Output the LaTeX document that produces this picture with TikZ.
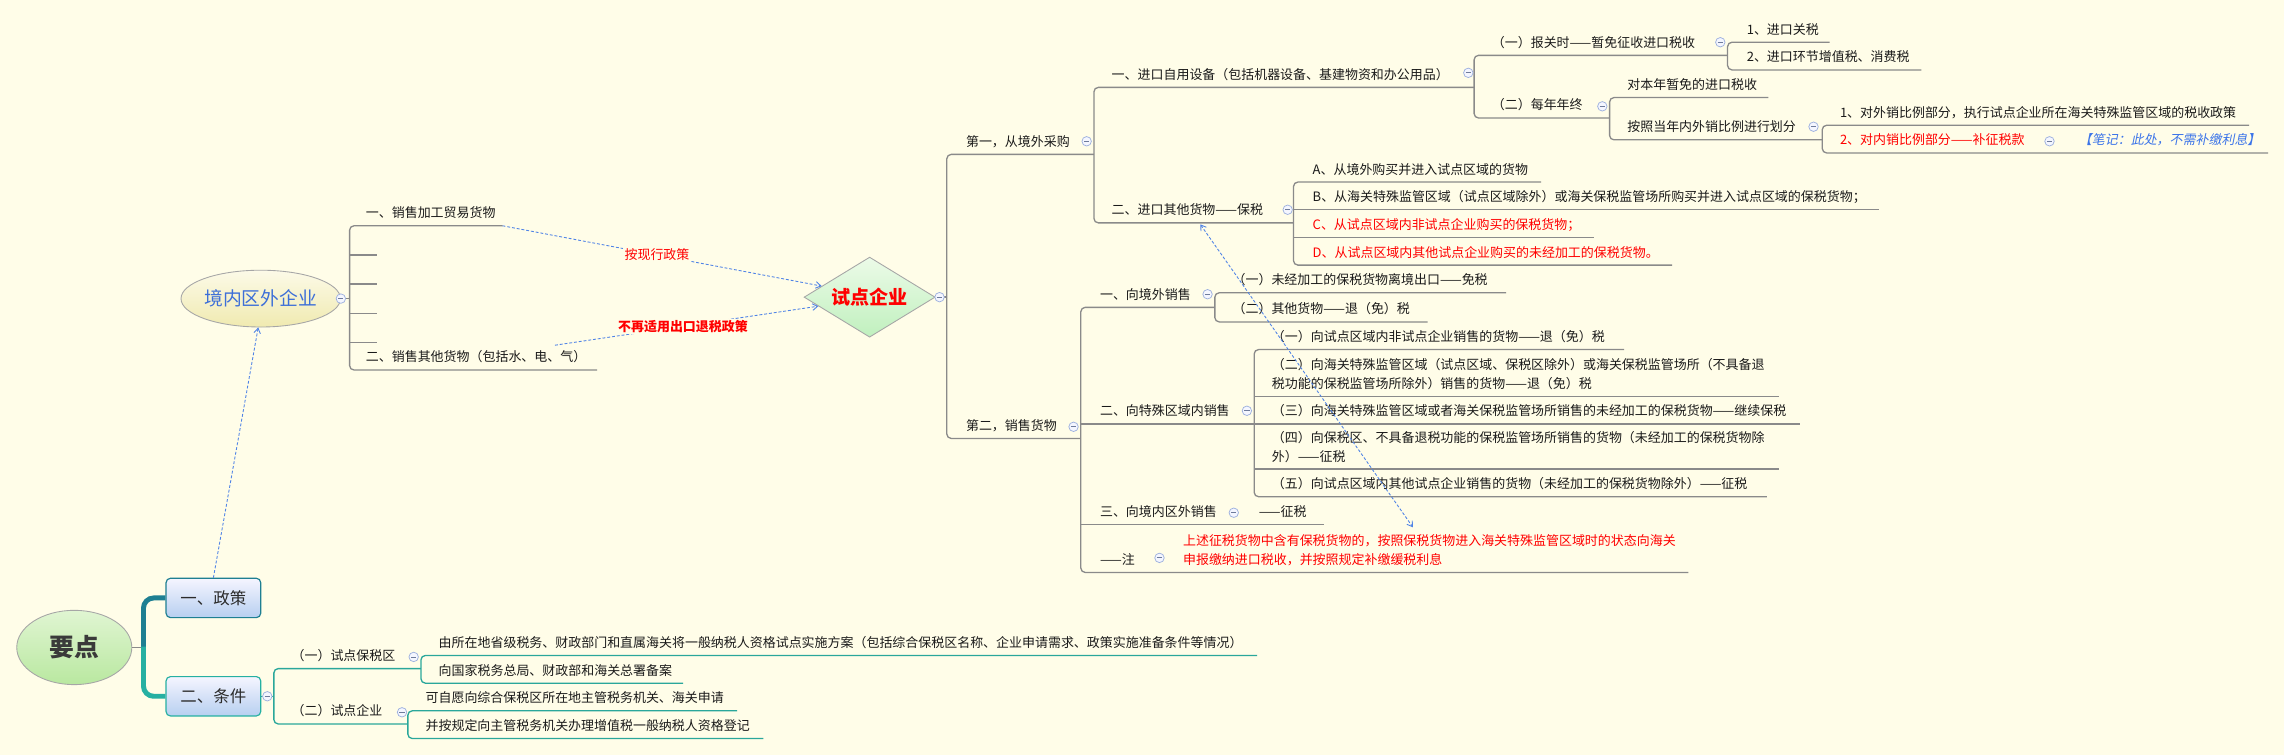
\documentclass[tikz,border=0pt]{standalone}
\usepackage{fontspec}
\setmainfont{Noto Sans CJK SC}
\newfontfamily\cjkslant{Noto Sans CJK SC}[FakeSlant=0.2]
\usetikzlibrary{shapes.geometric,arrows.meta}
\definecolor{bg}{HTML}{FFFDE8}
\definecolor{lg}{HTML}{8A8A8A}
\definecolor{tealA}{HTML}{1E7F92}
\definecolor{tealB}{HTML}{26B0A2}
\definecolor{tealL}{HTML}{2AA79B}
\definecolor{dblue}{HTML}{4F83E6}
\definecolor{cblue}{HTML}{9DB0DE}
\definecolor{colfill}{HTML}{F4F6FF}
\definecolor{txtred}{HTML}{FF0000}
\definecolor{noteblue}{HTML}{3B74E8}
\definecolor{nameblue}{HTML}{3D6FD8}
\definecolor{txtk}{HTML}{1A1A1A}
\newcommand{\fsz}{\fontsize{8.9}{12.7}\selectfont}
\begin{document}
\begin{tikzpicture}[x=1pt,y=-1pt,
  txt/.style={anchor=base west, inner sep=0pt, font=\fsz, text=txtk},
  redtxt/.style={txt, text=txtred},
  ln/.style={draw=lg, line width=0.9pt, rounded corners=3pt},
  tl/.style={draw=tealL, line width=0.9pt, rounded corners=3pt},
  col/.style={circle, draw=cblue, fill=colfill, line width=0.5pt, minimum size=6.5pt, inner sep=0pt,
    path picture={\draw[cblue!70!black, line width=0.6pt] ([xshift=-1.8pt]path picture bounding box.center) -- ([xshift=1.8pt]path picture bounding box.center);}},
  dar/.style={draw=dblue, line width=0.6pt, dash pattern=on 2pt off 1.3pt},
  lbl/.style={inner sep=1pt, fill=bg, font=\fsz, text=txtred},
  topicbox/.style={rectangle, rounded corners=3pt, minimum width=65pt, minimum height=27pt, inner sep=0pt,
    line width=0.8pt, top color=blue!4!white, bottom color={rgb,255:red,183;green,207;blue,240},
    font=\fontsize{11.3}{12}\selectfont, text={rgb,255:red,43;green,43;blue,43}},
]
\useasboundingbox (0,0) rectangle (1568,518);
\fill[bg] (0,0) rectangle (1568,518);

% ---------- main nodes ----------
\node[ellipse, draw=gray!70, line width=0.6pt, top color={rgb,255:red,224;green,245;blue,210}, bottom color={rgb,255:red,185;green,232;blue,160},
  minimum width=79pt, minimum height=51pt, inner sep=0pt, text={rgb,255:red,58;green,58;blue,58},
  font=\fontsize{17}{17}\selectfont\bfseries] (root) at (51,444.5) {要点};
\node[topicbox, draw=tealA] (zc) at (146.5,410.5) {一、政策};
\node[topicbox, draw=tealB] (tj) at (146.5,478) {二、条件};
\node[ellipse, draw=gray!70, line width=0.6pt, top color={rgb,255:red,252;green,250;blue,232}, bottom color={rgb,255:red,240;green,234;blue,176},
  minimum width=104pt, minimum height=39pt, inner sep=0pt, text=nameblue,
  font=\fontsize{12.9}{13}\selectfont] (ell) at (179,205) {境内区外企业};
\node[diamond, aspect=1.6, draw=gray!70, line width=0.6pt, top color={rgb,255:red,236;green,251;blue,232}, bottom color={rgb,255:red,192;green,240;blue,190},
  minimum width=90pt, minimum height=55pt, inner sep=0pt, text=txtred,
  font=\fontsize{13.1}{13}\selectfont\bfseries] (sd) at (597,204) {试点企业};

% ---------- root connectors ----------
\draw[lg, line width=0.9pt] (root.east) -- (98.5,444.5);
\draw[tealA, line width=3.4pt, rounded corners=7pt] (98.5,445) -- (98.5,410.5) -- (zc.west);
\draw[tealB, line width=3.4pt, rounded corners=7pt] (98.5,444) -- (98.5,478) -- (tj.west);

% ---------- condition subtree (teal) ----------
\draw[tl] (tj.east) -- (188,478);
\draw[tl] (289,459) -- (188,459) -- (188,497) -- (280,497);
\draw[tl] (863,450) -- (289,450) -- (289,469) -- (469,469);
\draw[tl] (506,488) -- (280,488) -- (280,507) -- (524,507);
\node[txt] (t1) at (200,453.5) {（一）试点保税区};
\node[txt] (t2) at (200,491.5) {（二）试点企业};
\node[txt] (t11) at (301,444.5) {由所在地省级税务、财政部门和直属海关将一般纳税人资格试点实施方案（包括综合保税区名称、企业申请需求、政策实施准备条件等情况）};
\node[txt] (t12) at (301,463.5) {向国家税务总局、财政部和海关总署备案};
\node[txt] (t21) at (292,482.5) {可自愿向综合保税区所在地主管税务机关、海关申请};
\node[txt] (t22) at (292,501.5) {并按规定向主管税务机关办理增值税一般纳税人资格登记};

% ---------- outside enterprise subtree ----------
\draw[ln] (ell.east) -- (240,205);
\draw[ln] (345,155) -- (240,155) -- (240,254) -- (410,254);
\foreach \yy in {175,195,215,235} \draw[ln] (240,\yy) -- (259,\yy);
\node[txt] (w1) at (251,149.5) {一、销售加工贸易货物};
\node[txt] (w2) at (251,248.5) {二、销售其他货物（包括水、电、气）};

% ---------- pilot enterprise subtree ----------
\draw[ln] (sd.east) -- (650,204);
\draw[ln] (751,106) -- (650,106) -- (650,301) -- (742,301);
% first: purchase from abroad
\draw[ln] (1012,60) -- (751,60) -- (751,153) -- (888,153);
\draw[ln] (1186,38) -- (1012,38) -- (1012,81) -- (1105,81);
\draw[ln] (1256,29) -- (1186,29) -- (1186,48) -- (1319,48);
\draw[ln] (1214,67) -- (1105,67) -- (1105,96) -- (1251,96);
\draw[ln] (1544,86) -- (1251,86) -- (1251,105) -- (1557,105);
\draw[ln] (1058,125) -- (888,125) -- (888,182) -- (1148,182);
\draw[ln] (888,144) -- (1290,144);
\draw[ln] (888,163) -- (1094,163);
% second: sales
\draw[ln] (834,211) -- (742,211) -- (742,393) -- (1159,393);
\draw[ln] (742,291) -- (861,291);
\draw[ln] (742,360) -- (909,360);
\draw[ln] (1034,201) -- (834,201) -- (834,221) -- (980,221);
\draw[ln] (1115,240) -- (861,240) -- (861,341) -- (1213,341);
\draw[ln] (861,272) -- (1221,272);
\draw[ln] (861,291) -- (1236,291);
\draw[ln] (861,322) -- (1221,322);

\node[txt] (p1) at (663,100.5) {第一，从境外采购};
\node[txt] (p2) at (663,295.5) {第二，销售货物};
\node[txt] (q1) at (763,54.5) {一、进口自用设备（包括机器设备、基建物资和办公用品）};
\node[txt] (q2) at (763,147.5) {二、进口其他货物——保税};
\node[txt] (r1) at (1024,32.5) {（一）报关时——暂免征收进口税收};
\node[txt] (r2) at (1024,75.5) {（二）每年年终};
\node[txt] (s1) at (1199,23.5) {1、进口关税};
\node[txt] (s2) at (1199,42.5) {2、进口环节增值税、消费税};
\node[txt] (s3) at (1117,61.5) {对本年暂免的进口税收};
\node[txt] (s4) at (1117,90.5) {按照当年内外销比例进行划分};
\node[txt] (u1) at (1263,80.5) {1、对外销比例部分，执行试点企业所在海关特殊监管区域的税收政策};
\node[redtxt] (u2) at (1263,99.5) {2、对内销比例部分——补征税款};
\node[txt, text=noteblue, font=\fsz\cjkslant] (u3) at (1427,99.5) {【笔记：此处，不需补缴利息】};
\node[txt] (ga) at (901,119.5) {A、从境外购买并进入试点区域的货物};
\node[txt] (gb) at (901,138.5) {B、从海关特殊监管区域（试点区域除外）或海关保税监管场所购买并进入试点区域的保税货物；};
\node[redtxt] (gc) at (901,157.5) {C、从试点区域内非试点企业购买的保税货物；};
\node[redtxt] (gd) at (901,176.5) {D、从试点区域内其他试点企业购买的未经加工的保税货物。};
\node[txt] (v1) at (755,205.5) {一、向境外销售};
\node[txt] (v2) at (755,285.5) {二、向特殊区域内销售};
\node[txt] (v3) at (755,354.5) {三、向境内区外销售};
\node[txt] (v3a) at (864,354.5) {——征税};
\node[txt] (v4) at (755,387.5) {——注};
\node[redtxt, align=left] (v4a) at (812,387.5) {上述征税货物中含有保税货物的，按照保税货物进入海关特殊监管区域时的状态向海关\\申报缴纳进口税收，并按照规定补缴缓税利息};
\node[txt] (x1) at (846,195.5) {（一）未经加工的保税货物离境出口——免税};
\node[txt] (x2) at (846,215.5) {（二）其他货物——退（免）税};
\node[txt] (y1) at (873,234.5) {（一）向试点区域内非试点企业销售的货物——退（免）税};
\node[txt, align=left] (y2) at (873,266.5) {（二）向海关特殊监管区域（试点区域、保税区除外）或海关保税监管场所（不具备退\\税功能的保税监管场所除外）销售的货物——退（免）税};
\node[txt] (y3) at (873,285.5) {（三）向海关特殊监管区域或者海关保税监管场所销售的未经加工的保税货物——继续保税};
\node[txt, align=left] (y4) at (873,316.5) {（四）向保税区、不具备退税功能的保税监管场所销售的货物（未经加工的保税货物除\\外）——征税};
\node[txt] (y5) at (873,335.5) {（五）向试点区域内其他试点企业销售的货物（未经加工的保税货物除外）——征税};

% ---------- collapse markers ----------
\node[col] (c1) at (234,205) {};
\node[col] (c2) at (183.5,478) {};
\node[col] (c3) at (284,451) {};
\node[col] (c4) at (276,489) {};
\node[col] (c5) at (645,204) {};
\node[col] (c6) at (746,97) {};
\node[col] (c7) at (737,293) {};
\node[col] (c8) at (1008,50) {};
\node[col] (c9) at (884,144) {};
\node[col] (c10) at (1181,29) {};
\node[col] (c11) at (1100,73) {};
\node[col] (c12) at (1245,87) {};
\node[col] (c13) at (1407,97) {};
\node[col] (c14) at (829,202) {};
\node[col] (c15) at (856,282) {};
\node[col] (c16) at (847,352) {};
\node[col] (c17) at (796,383) {};

% ---------- relationship arrows ----------
\coordinate (a1s) at (345,155);
\coordinate (a2s) at (381,237);
\draw[dar, -{Straight Barb[length=3.5pt,width=4.5pt]}] (a1s) -- node[lbl, pos=0.484] (lb1) {按现行政策} (sd.167);
\draw[dar, -{Straight Barb[length=3.5pt,width=4.5pt]}] (a2s) -- node[lbl, pos=0.486, font=\fsz\bfseries] (lb2) {不再适用出口退税政策} (sd.190);
\draw[dar, -{Straight Barb[length=3.5pt,width=4.5pt]}] (zc.north) -- (ell.265);
\coordinate (n1) at (824,154);
\coordinate (n2) at (970,362);
\draw[dar, {Straight Barb[length=3.5pt,width=4.5pt]}-{Straight Barb[length=3.5pt,width=4.5pt]}] (n1) -- (n2);
\end{tikzpicture}
\end{document}
